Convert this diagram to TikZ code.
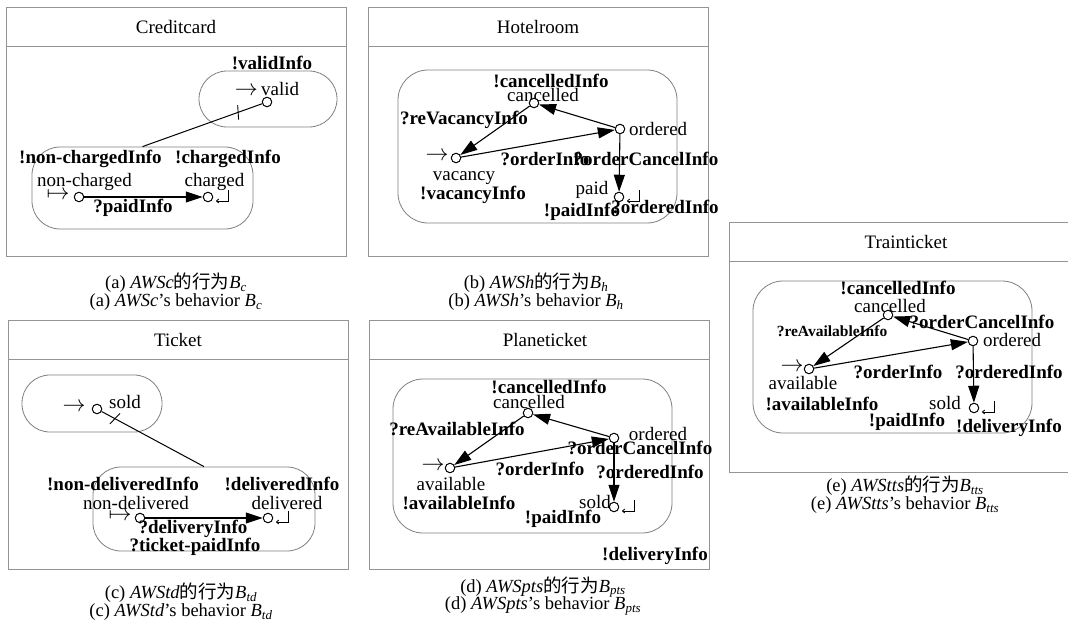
\documentclass[tikz,border=0pt]{standalone}
\usepackage{fontspec}
\setmainfont{Liberation Serif}
\newfontfamily\cjkfont{Noto Sans CJK SC}
\usetikzlibrary{arrows.meta,decorations.markings}

% initial-state marks: a plain arrow and a barred arrow, enlarged from 10pt math
\newcommand\initarrow{\scalebox{2.3}{\fontsize{10}{12}\selectfont$\rightarrow$}}
\newcommand\barredarrow{\scalebox{2.3}{\fontsize{10}{12}\selectfont$\mapsto$}}

\tikzset{
  panel/.style={draw=black!42, line width=0.9pt},
  region/.style={draw=black!50, line width=0.8pt, inner sep=0},
  st/.style={circle, draw=black, fill=white, line width=1pt, minimum size=9.5pt, inner sep=0},
  tr/.style={draw=black, line width=1.1pt, -{Triangle[length=17pt,width=11pt]}},
  lnk/.style={draw=black, line width=1pt},
  txt/.style={font=\fontsize{19}{21}\selectfont, inner sep=0},
  lab/.style={font=\fontsize{19}{21}\selectfont\bfseries, inner sep=0},
  smalllab/.style={font=\fontsize{15.5}{17}\selectfont\bfseries, inner sep=0},
  captxt/.style={font=\fontsize{18.5}{20}\selectfont, inner sep=0},
  hook/.pic={\draw[line width=0.9pt, -{To[length=3pt,width=4.5pt]}] (20,-7) -- (20,4) -- (8,4);},
  crossed/.style={postaction={decorate}, decoration={markings,
      mark=at position #1 with {\draw[line width=0.9pt] (-2pt,-7pt) -- (2pt,7pt);}}},
}

\begin{document}
\begin{tikzpicture}[x=1pt, y=-1pt]
\fill[white] (0,0) rectangle (1068,623);
\useasboundingbox (0,0) rectangle (1068,623);

% ---------------- Creditcard ----------------
\draw[panel] (6,7) rectangle (346,256);
\draw[panel] (6,46) -- (346,46);
\node[txt] (cc-title) at (176,27) {Creditcard};
\node[region, minimum width=138, minimum height=56, rounded corners=28] (cc-top) at (268,99) {};
\node[region, minimum width=221, minimum height=82, rounded corners=28] (cc-bot) at (142.5,188) {};
\node[lab] (cc-l1) at (272,63) {!validInfo};
\node[txt] (cc-t1) at (267,89) {\initarrow\,valid};
\node[st] (cc-valid) at (267,102) {};
\draw[lnk, crossed=0.2] (cc-valid) -- (cc-bot.north);
\node[lab] (cc-l2) at (90.5,159) {!non-chargedInfo};
\node[lab] (cc-l3) at (228,159) {!chargedInfo};
\node[txt] (cc-t2) at (84.5,182) {non-charged};
\node[txt] (cc-t3) at (214.5,182) {charged};
\node[txt] (cc-in) at (58,195) {\barredarrow};
\node[st] (cc-nc) at (79,197) {};
\node[st] (cc-ch) at (208,197) {};
\draw[tr] (cc-nc) -- (cc-ch);
\node[lab] (cc-e1) at (133,208) {?paidInfo};
\pic at (cc-ch) {hook};
\node[captxt] (cc-c1) at (176,283) {(a) \textit{AWSc}{\cjkfont 的行为}\textit{B}\textsubscript{\textit{c}}};
\node[captxt] (cc-c2) at (176,302) {(a) \textit{AWSc}'s behavior \textit{B}\textsubscript{\textit{c}}};

% ---------------- Hotelroom ----------------
\draw[panel] (368,7) rectangle (708,256);
\draw[panel] (368,46) -- (708,46);
\node[txt] (hr-title) at (538,27) {Hotelroom};
\node[region, minimum width=279, minimum height=153, rounded corners=30] (hr-reg) at (537.5,146.5) {};
\node[lab] (hr-l1) at (551,81) {!cancelledInfo};
\node[txt] (hr-t1) at (543,95) {cancelled};
\node[st] (hr-can) at (534,103) {};
\node[st] (hr-ord) at (620,129) {};
\node[txt, anchor=west] (hr-t2) at (629,129) {ordered};
\node[st] (hr-vac) at (456,158) {};
\node[txt] (hr-in) at (437,156) {\initarrow};
\node[txt] (hr-t3) at (464,178) {vacancy};
\node[lab] (hr-l2) at (473,195) {!vacancyInfo};
\node[st] (hr-paid) at (619,197) {};
\node[txt] (hr-t4) at (592,190) {paid};
\node[lab] (hr-l3) at (582,212) {!paidInfo};
\node[lab] (hr-e1) at (665,207) {?orderedInfo};
\node[lab] (hr-e2) at (464,120) {?reVacancyInfo};
\node[lab] (hr-e3) at (545,159) {?orderInfo};
\node[lab] (hr-e4) at (646,159) {?orderCancelInfo};
\draw[tr] (hr-can) -- (hr-vac);
\draw[tr] (hr-ord) -- (hr-can);
\draw[tr] (hr-vac) -- (hr-ord);
\draw[tr] (hr-ord) -- (hr-paid);
\pic at (hr-paid) {hook};
\node[captxt] (hr-c1) at (536,283) {(b) \textit{AWSh}{\cjkfont 的行为}\textit{B}\textsubscript{\textit{h}}};
\node[captxt] (hr-c2) at (536,302) {(b) \textit{AWSh}'s behavior \textit{B}\textsubscript{\textit{h}}};

% ---------------- Ticket ----------------
\draw[panel] (8,320) rectangle (348,569);
\draw[panel] (8,359) -- (348,359);
\node[txt] (tk-title) at (178,340) {Ticket};
\node[region, minimum width=140, minimum height=57, rounded corners=28] (tk-top) at (92,403.5) {};
\node[region, minimum width=222, minimum height=84, rounded corners=28] (tk-bot) at (204,509) {};
\node[txt] (tk-in) at (74,407) {\initarrow};
\node[st] (tk-sold) at (97,409) {};
\node[txt] (tk-t1) at (125,402) {sold};
\draw[lnk, crossed=0.13] (tk-sold) -- (tk-bot.north);
\node[lab] (tk-l1) at (123,484) {!non-deliveredInfo};
\node[lab] (tk-l2) at (282,484) {!deliveredInfo};
\node[txt] (tk-t2) at (136,503) {non-delivered};
\node[txt] (tk-t3) at (287,503) {delivered};
\node[txt] (tk-mt) at (120,516) {\barredarrow};
\node[st] (tk-nd) at (140,518) {};
\node[st] (tk-d) at (268,518) {};
\draw[tr] (tk-nd) -- (tk-d);
\pic at (tk-d) {hook};
\node[lab] (tk-e1) at (193,529) {?deliveryInfo};
\node[lab] (tk-e2) at (195,547) {?ticket-paidInfo};
\node[captxt] (tk-c1) at (181,593) {(c) \textit{AWStd}{\cjkfont 的行为}\textit{B}\textsubscript{\textit{td}}};
\node[captxt] (tk-c2) at (181,612) {(c) \textit{AWStd}'s behavior \textit{B}\textsubscript{\textit{td}}};

% ---------------- Planeticket ----------------
\draw[panel] (369,320) rectangle (709,569);
\draw[panel] (369,359) -- (709,359);
\node[txt] (pt-title) at (545,340) {Planeticket};
\node[region, minimum width=279, minimum height=154, rounded corners=30] (pt-reg) at (532.5,456) {};
\node[lab] (pt-l1) at (549,387) {!cancelledInfo};
\node[txt] (pt-t1) at (529,402) {cancelled};
\node[st] (pt-can) at (528,413) {};
\node[st] (pt-ord) at (614,438) {};
\node[txt] (pt-t2) at (658,434) {ordered};
\node[lab] (pt-e1) at (640,448) {?orderCancelInfo};
\node[st] (pt-av) at (450,468) {};
\node[txt] (pt-in) at (433,466) {\initarrow};
\node[txt] (pt-t3) at (451,484) {available};
\node[lab] (pt-l2) at (459,503) {!availableInfo};
\node[lab] (pt-e2) at (457,429) {?reAvailableInfo};
\node[lab] (pt-e3) at (540,469) {?orderInfo};
\node[lab] (pt-e4) at (650,472) {?orderedInfo};
\node[st] (pt-sold) at (614,507) {};
\node[txt] (pt-t4) at (595,502) {sold};
\node[lab] (pt-l3) at (563,519) {!paidInfo};
\node[lab] (pt-l4) at (655,556) {!deliveryInfo};
\draw[tr] (pt-can) -- (pt-av);
\draw[tr] (pt-ord) -- (pt-can);
\draw[tr] (pt-av) -- (pt-ord);
\draw[tr] (pt-ord) -- (pt-sold);
\pic at (pt-sold) {hook};
\node[captxt] (pt-c1) at (543,587) {(d) \textit{AWSpts}{\cjkfont 的行为}\textit{B}\textsubscript{\textit{pts}}};
\node[captxt] (pt-c2) at (543,606) {(d) \textit{AWSpts}'s behavior \textit{B}\textsubscript{\textit{pts}}};

% ---------------- Trainticket ----------------
\draw[panel] (1069,222) -- (729,222) -- (729,472) -- (1069,472);
\draw[panel] (729,261) -- (1069,261);
\node[txt] (tt-title) at (906,242) {Trainticket};
\node[region, minimum width=279, minimum height=152, rounded corners=30] (tt-reg) at (892.5,357) {};
\node[lab] (tt-l1) at (898,288) {!cancelledInfo};
\node[txt] (tt-t1) at (890,306) {cancelled};
\node[st] (tt-can) at (888,315) {};
\node[lab] (tt-e1) at (982,322) {?orderCancelInfo};
\node[smalllab] (tt-e2) at (832,331) {?reAvailableInfo};
\node[st] (tt-ord) at (973,341) {};
\node[txt] (tt-t2) at (1012,340) {ordered};
\node[st] (tt-av) at (809,369) {};
\node[txt] (tt-in) at (792,367) {\initarrow};
\node[txt] (tt-t3) at (803,383) {available};
\node[lab] (tt-l2) at (822,404) {!availableInfo};
\node[lab] (tt-e3) at (898,372) {?orderInfo};
\node[lab] (tt-e4) at (1009,372) {?orderedInfo};
\node[st] (tt-sold) at (974,408) {};
\node[txt] (tt-t4) at (945,403) {sold};
\node[lab] (tt-l3) at (907,422) {!paidInfo};
\node[lab] (tt-l4) at (1009,428) {!deliveryInfo};
\draw[tr] (tt-can) -- (tt-av);
\draw[tr] (tt-ord) -- (tt-can);
\draw[tr] (tt-av) -- (tt-ord);
\draw[tr] (tt-ord) -- (tt-sold);
\pic at (tt-sold) {hook};
\node[captxt] (tt-c1) at (905,486) {(e) \textit{AWStts}{\cjkfont 的行为}\textit{B}\textsubscript{\textit{tts}}};
\node[captxt] (tt-c2) at (905,505) {(e) \textit{AWStts}'s behavior \textit{B}\textsubscript{\textit{tts}}};
\end{tikzpicture}
\end{document}
